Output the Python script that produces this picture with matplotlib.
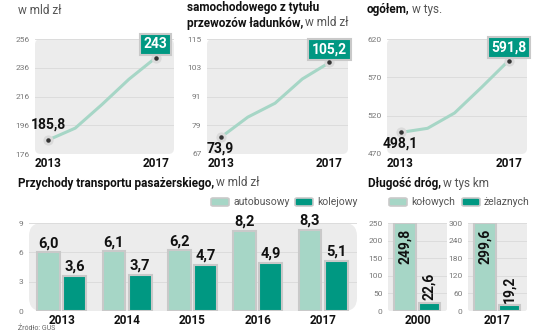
import matplotlib
matplotlib.use("Agg")
import matplotlib.pyplot as plt
from matplotlib.patches import FancyBboxPatch

W, H = 536, 332
LIGHT = "#a6d6c6"
DARK = "#009882"
EDGE = "#c9c9c9"
BG = "#ececec"
GRID = "#dcdcdc"
TICK = "#777777"

plt.rcParams["font.family"] = ["Roboto", "DejaVu Sans"]

# trzy wykresy liniowe 2013-2017
years = [2013, 2014, 2015, 2016, 2017]
przychody_ogolem = [185.8, 194.0, 210.5, 228.0, 243]
przychody_ladunki = [73.9, 82.4, 88.2, 98.3, 105.2]
pojazdy = [498.1, 503.5, 523.5, 557.0, 591.8]

# przychody transportu pasażerskiego
bar_years = ["2013", "2014", "2015", "2016", "2017"]
autobusowy = [6.0, 6.1, 6.2, 8.2, 8.3]
kolejowy = [3.6, 3.7, 4.7, 4.9, 5.1]

# długość dróg
road_years = ["2000", "2017"]
kolowych = [249.8, 299.6]
zelaznych = [22.6, 19.2]


def fmt(v):
    if isinstance(v, int):
        return str(v)
    return f"{v:.1f}".replace(".", ",")


def fx(x):
    return x / W


def fy(y):
    return 1 - y / H


def add_axes(x0, y0, x1, y1):
    ax = fig.add_axes([fx(x0), fy(y1), fx(x1) - fx(x0), fy(y0) - fy(y1)])
    for s in ax.spines.values():
        s.set_visible(False)
    ax.set_facecolor("none")
    bg = FancyBboxPatch((0, 0), 1, 1, boxstyle="round,pad=0,rounding_size=0.04",
                        transform=ax.transAxes, fc=BG, ec="none", zorder=-5,
                        clip_on=False, mutation_aspect=(x1 - x0) / (y1 - y0))
    ax.add_patch(bg)
    ax.tick_params(axis="y", length=0, labelsize=6, labelcolor=TICK, pad=4)
    ax.tick_params(axis="x", length=0)
    return ax


def title(x, y, bold, normal=""):
    t = fig.text(fx(x), fy(y), bold, fontsize=8.5, fontweight="bold",
                 va="center", ha="left", color="#111111")
    if normal:
        if bold:
            fig.canvas.draw()
            x = t.get_window_extent().x1 + 2
        fig.text(fx(x), fy(y), normal, fontsize=8.5, va="center", ha="left",
                 color="#555555")


fig = plt.figure(figsize=(W / 100, H / 100), dpi=100)


def line_panel(x0, x1, vals, ticks, lo_below):
    ax = add_axes(x0, 39, x1, 154)
    ax.set_ylim(ticks[0], ticks[-1])
    ax.set_xlim(2012.5, 2017.68)
    ax.set_yticks(ticks)
    ax.set_xticks([])
    ax.grid(axis="y", color=GRID, lw=0.7, zorder=-4)
    ax.set_axisbelow(True)
    ax.plot(years, vals, color=LIGHT, lw=2.2, solid_capstyle="round", zorder=2)
    ends = [years[0], years[-1]]
    endv = [vals[0], vals[-1]]
    ax.scatter(ends, endv, s=40, color="#dadada", zorder=3)
    ax.scatter(ends, endv, s=5, color="#333333", zorder=4)
    dy = -8 if lo_below else 11
    ax.annotate(fmt(vals[0]), (years[0], vals[0]), xytext=(0, dy),
                textcoords="offset points", ha="center", va="center",
                fontsize=10, fontweight="bold", color="#111111")
    ax.annotate(fmt(vals[-1]), (years[-1], vals[-1]), xytext=(0, 9.5),
                textcoords="offset points", ha="center", va="center",
                fontsize=10, fontweight="bold", color="white",
                bbox=dict(boxstyle="square,pad=0.25", fc=DARK, ec=EDGE, lw=1.5))
    for yr in ends:
        ax.annotate(str(yr), (yr, ticks[0]), xytext=(0, -7),
                    textcoords="offset points", ha="center", va="center",
                    fontsize=8.5, fontweight="bold", color="#111111",
                    annotation_clip=False)
    return ax


line_panel(35, 174, przychody_ogolem, [176, 196, 216, 236, 256], False)
line_panel(207, 348, przychody_ladunki, [67, 79, 91, 103, 115], True)
line_panel(387, 527, pojazdy, [470, 520, 570, 620], True)

title(18, 10, "", "w mld zł")
title(187, 8, "samochodowego z tytułu")
title(187, 23, "przewozów ładunków,", "w mld zł")
title(367, 10, "ogółem,", "w tys.")

# przychody transportu pasażerskiego
ax = add_axes(29, 223, 357, 311)
ax.set_ylim(0, 9)
ax.set_xlim(-0.5, 4.52)
ax.set_yticks([0, 3, 6, 9])
ax.grid(axis="y", color=GRID, lw=0.7)
ax.set_axisbelow(True)
xs = range(len(bar_years))
b1 = ax.bar([x - 0.2 for x in xs], autobusowy, 0.35, color=LIGHT, ec=EDGE, lw=1.5, zorder=2)
b2 = ax.bar([x + 0.2 for x in xs], kolejowy, 0.35, color=DARK, ec=EDGE, lw=1.5, zorder=2)
for bars, vals in ((b1, autobusowy), (b2, kolejowy)):
    for r, v in zip(bars, vals):
        ax.annotate(fmt(v), (r.get_x() + r.get_width() / 2, v), xytext=(0, 1.5),
                    textcoords="offset points", ha="center", va="bottom",
                    fontsize=10.5, fontweight="bold", color="#111111")
ax.set_xticks(list(xs))
ax.set_xticklabels(bar_years, fontsize=8.5, fontweight="bold", color="#111111")
ax.tick_params(axis="x", pad=2)

title(18, 183, "Przychody transportu pasażerskiego,", "w mld zł")


def legend_item(x, y, color, label):
    fig.patches.append(FancyBboxPatch((fx(x), fy(y + 4)), fx(18), 8 / H,
                                      boxstyle="round,pad=0,rounding_size=0.004",
                                      transform=fig.transFigure, fc=color, ec=EDGE,
                                      lw=1.2))
    fig.text(fx(x + 22), fy(y), label, fontsize=7.5, color="#555555",
             va="center", ha="left")


legend_item(211, 202, LIGHT, "autobusowy")
legend_item(295, 202, DARK, "kolejowy")

# długość dróg
title(368, 183, "Długość dróg,", "w tys km")
legend_item(389, 202, LIGHT, "kołowych")
legend_item(462, 202, DARK, "żelaznych")

for i, (x0, x1, top, step) in enumerate(((388, 447, 250, 50), (468, 527, 300, 60))):
    ax = add_axes(x0, 223, x1, 311)
    ax.set_ylim(0, top)
    ax.set_xlim(0, 1)
    ax.set_yticks(range(0, top + 1, step))
    ax.grid(axis="y", color=GRID, lw=0.7)
    ax.set_axisbelow(True)
    ax.bar(0.29, kolowych[i], 0.36, color=LIGHT, ec=EDGE, lw=1.5, zorder=2)
    ax.bar(0.7, zelaznych[i], 0.36, color=DARK, ec=EDGE, lw=1.5, zorder=2)
    ax.annotate(fmt(kolowych[i]), (0.29, kolowych[i]), xytext=(0, -4),
                textcoords="offset points", ha="center", va="top", rotation=90,
                fontsize=10, fontweight="bold", color="#111111")
    ax.annotate(fmt(zelaznych[i]), (0.7, zelaznych[i]), xytext=(0, 2),
                textcoords="offset points", ha="center", va="bottom", rotation=90,
                fontsize=10, fontweight="bold", color="#111111")
    ax.set_xticks([0.5])
    ax.set_xticklabels([road_years[i]], fontsize=8.5, fontweight="bold", color="#111111")
    ax.tick_params(axis="x", pad=2)

fig.text(fx(18), fy(325), "Źródło: GUS", fontsize=5, color="#666666",
         va="top", ha="left")

fig.savefig("out.png", dpi=100)
